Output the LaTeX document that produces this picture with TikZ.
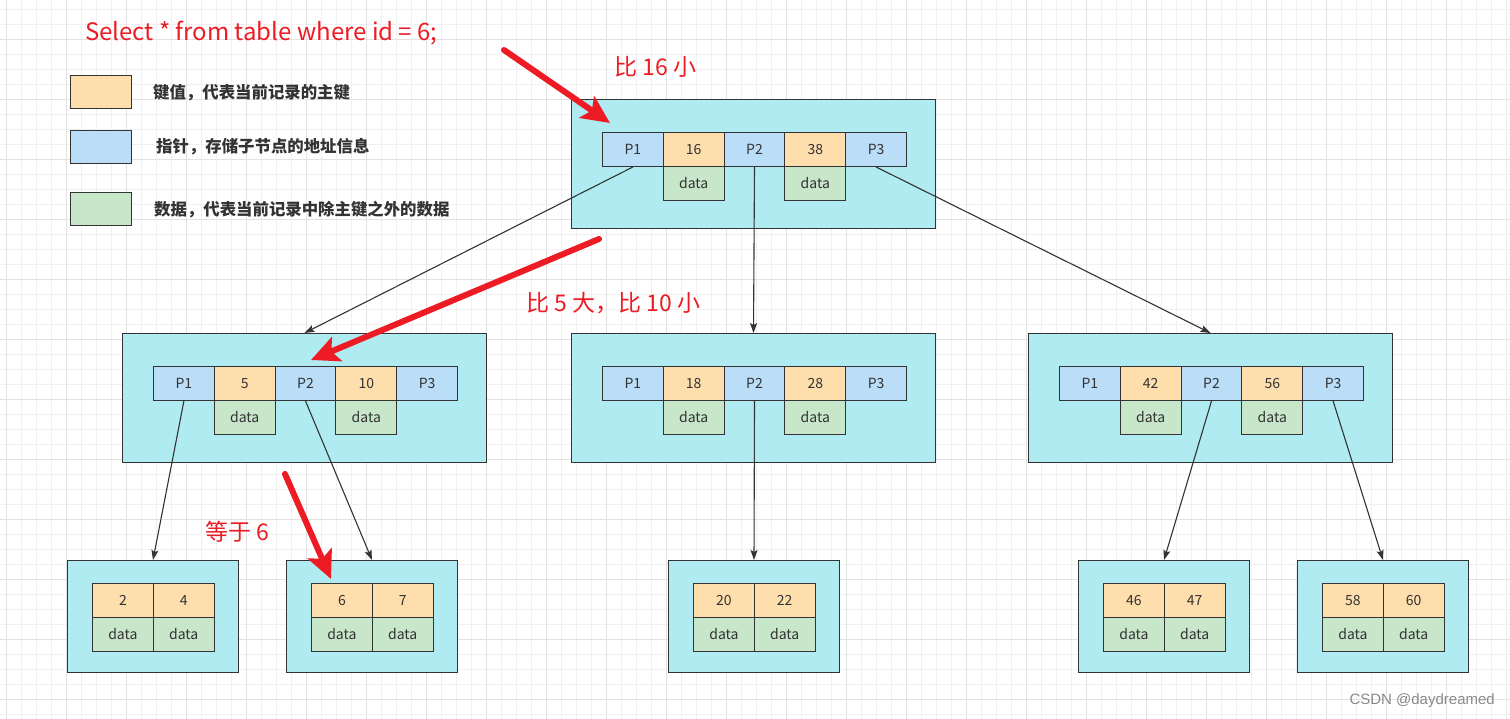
\documentclass[tikz,border=0pt]{standalone}
\usepackage{fontspec}
\setmainfont{Noto Sans CJK SC}
\newfontfamily\wmfont{Liberation Sans}
\usetikzlibrary{arrows.meta}
\definecolor{keyc}{HTML}{FFDEAD}
\definecolor{ptrc}{HTML}{BADDF8}
\definecolor{datac}{HTML}{C8E6CA}
\definecolor{boxc}{HTML}{B0EBF1}
\definecolor{linec}{HTML}{333333}
\definecolor{redc}{HTML}{ED1C24}
\definecolor{gridc}{HTML}{F0F0F0}
\definecolor{gridd}{HTML}{E2E2E2}
\definecolor{txtc}{HTML}{333333}
\definecolor{wmc}{HTML}{8A8A8A}

\newcommand{\innode}[5]{%
  \node[innerbox] (#1) at (#2,#3) {};
  \node[ptrcell] (#1p1) at (#2+31,#3+33) {P1};
  \node[keycell] (#1k1) at (#2+91.8,#3+33) {#4};
  \node[ptrcell] (#1p2) at (#2+152.6,#3+33) {P2};
  \node[keycell] (#1k2) at (#2+213.4,#3+33) {#5};
  \node[ptrcell] (#1p3) at (#2+274.2,#3+33) {P3};
  \node[datacell] (#1d1) at (#2+91.8,#3+67) {data};
  \node[datacell] (#1d2) at (#2+213.4,#3+67) {data};
}
\newcommand{\leafnode}[5]{%
  \node[leafbox] (#1) at (#2,#3) {};
  \node[keycell] (#1k1) at (#2+25,#3+23) {#4};
  \node[keycell] (#1k2) at (#2+85.8,#3+23) {#5};
  \node[datacell] (#1d1) at (#2+25,#3+57) {data};
  \node[datacell] (#1d2) at (#2+85.8,#3+57) {data};
}

\begin{document}
\begin{tikzpicture}[x=1pt,y=-1pt,
  cellbase/.style={draw=linec, line width=1pt, minimum width=60.8pt, minimum height=34pt, inner sep=0pt, anchor=north west, text=txtc, font=\fontsize{14}{16}\selectfont},
  keycell/.style={cellbase, fill=keyc},
  ptrcell/.style={cellbase, fill=ptrc},
  datacell/.style={cellbase, fill=datac},
  innerbox/.style={draw=linec, line width=1pt, fill=boxc, minimum width=364pt, minimum height=129pt, inner sep=0pt, anchor=north west},
  leafbox/.style={draw=linec, line width=1pt, fill=boxc, minimum width=171pt, minimum height=112pt, inner sep=0pt, anchor=north west},
  conn/.style={draw=linec, line width=1.1pt, -{Stealth[length=10pt,width=7pt,inset=2pt]}},
  redarrow/.style={draw=redc, line width=6pt, line cap=round, -{Stealth[length=28pt,width=26pt,inset=6pt]}},
  redlabel/.style={text=redc, anchor=west, inner sep=0pt, font=\fontsize{23}{26}\selectfont},
  legbox/.style={draw=linec, line width=1.2pt, minimum width=61pt, minimum height=33pt, inner sep=0pt, anchor=north west},
  legtext/.style={anchor=west, inner sep=0pt, text=txtc, font=\fontsize{16.4}{18}\selectfont\bfseries},
]
\useasboundingbox (0,0) rectangle (1510,719);
\fill[white] (0,0) rectangle (1510,719);
% grid
\foreach \i in {0,...,100} {\draw[gridc, line width=1pt] (6.7+15*\i,0) -- (6.7+15*\i,719);}
\foreach \j in {0,...,47} {\draw[gridc, line width=1pt] (0,9.3+15*\j) -- (1510,9.3+15*\j);}
\foreach \i in {0,...,24} {\draw[gridd, line width=1pt] (6.7+60*\i,0) -- (6.7+60*\i,719);}
\foreach \j in {0,...,11} {\draw[gridd, line width=1pt] (0,39.3+60*\j) -- (1510,39.3+60*\j);}

% title
\node[anchor=west, inner sep=0pt, text=redc, font=\fontsize{24}{28}\selectfont] (title) at (85,33) {Select * from table where id = 6;};

% legend
\node[legbox, fill=keyc] (legk) at (70,75) {};
\node[legbox, fill=ptrc] (legp) at (70,130) {};
\node[legbox, fill=datac] (legd) at (70,192) {};
\node[legtext] (legkt) at (153,93) {键值，代表当前记录的主键};
\node[legtext] (legpt) at (156,147) {指针，存储子节点的地址信息};
\node[legtext] (legdt) at (154,210) {数据，代表当前记录中除主键之外的数据};

% nodes
\innode{top}{571}{99}{16}{38}
\innode{left}{122}{333}{5}{10}
\innode{mid}{571}{333}{18}{28}
\innode{right}{1028}{333}{42}{56}
\leafnode{leafa}{67}{560}{2}{4}
\leafnode{leafb}{286}{560}{6}{7}
\leafnode{leafc}{668}{560}{20}{22}
\leafnode{leafd}{1078}{560}{46}{47}
\leafnode{leafe}{1297}{560}{58}{60}

% connectors
\draw[conn] (topp1.south) -- (left.north);
\draw[conn] (topp2.south) -- (mid.north);
\draw[conn] (topp3.south) -- (right.north);
\draw[conn] (leftp1.south) -- (leafa.north);
\draw[conn] (leftp2.south) -- (leafb.north);
\draw[conn] (midp2.south) -- (leafc.north);
\draw[conn] (rightp2.south) -- (leafd.north);
\draw[conn] (rightp3.south) -- (leafe.north);

% red labels
\node[redlabel] (lab1) at (614,67) {比 16 小};
\node[redlabel] (lab2) at (526,303) {比 5 大，比 10 小};
\node[redlabel] (lab3) at (205,532) {等于 6};

% red arrows
\coordinate (r1s) at (504,50);
\coordinate (r1e) at (610,123);
\coordinate (r2s) at (599,239);
\coordinate (r2e) at (311,360);
\coordinate (r3s) at (285,474);
\coordinate (r3e) at (331,579);
\draw[redarrow] (r1s) -- (r1e);
\draw[redarrow] (r2s) -- (r2e);
\draw[redarrow] (r3s) -- (r3e);

% watermark
\node[anchor=east, inner sep=0pt, text=wmc, font=\wmfont\fontsize{15}{17}\selectfont] (wm) at (1495,701) {CSDN @daydreamed};
\end{tikzpicture}
\end{document}
